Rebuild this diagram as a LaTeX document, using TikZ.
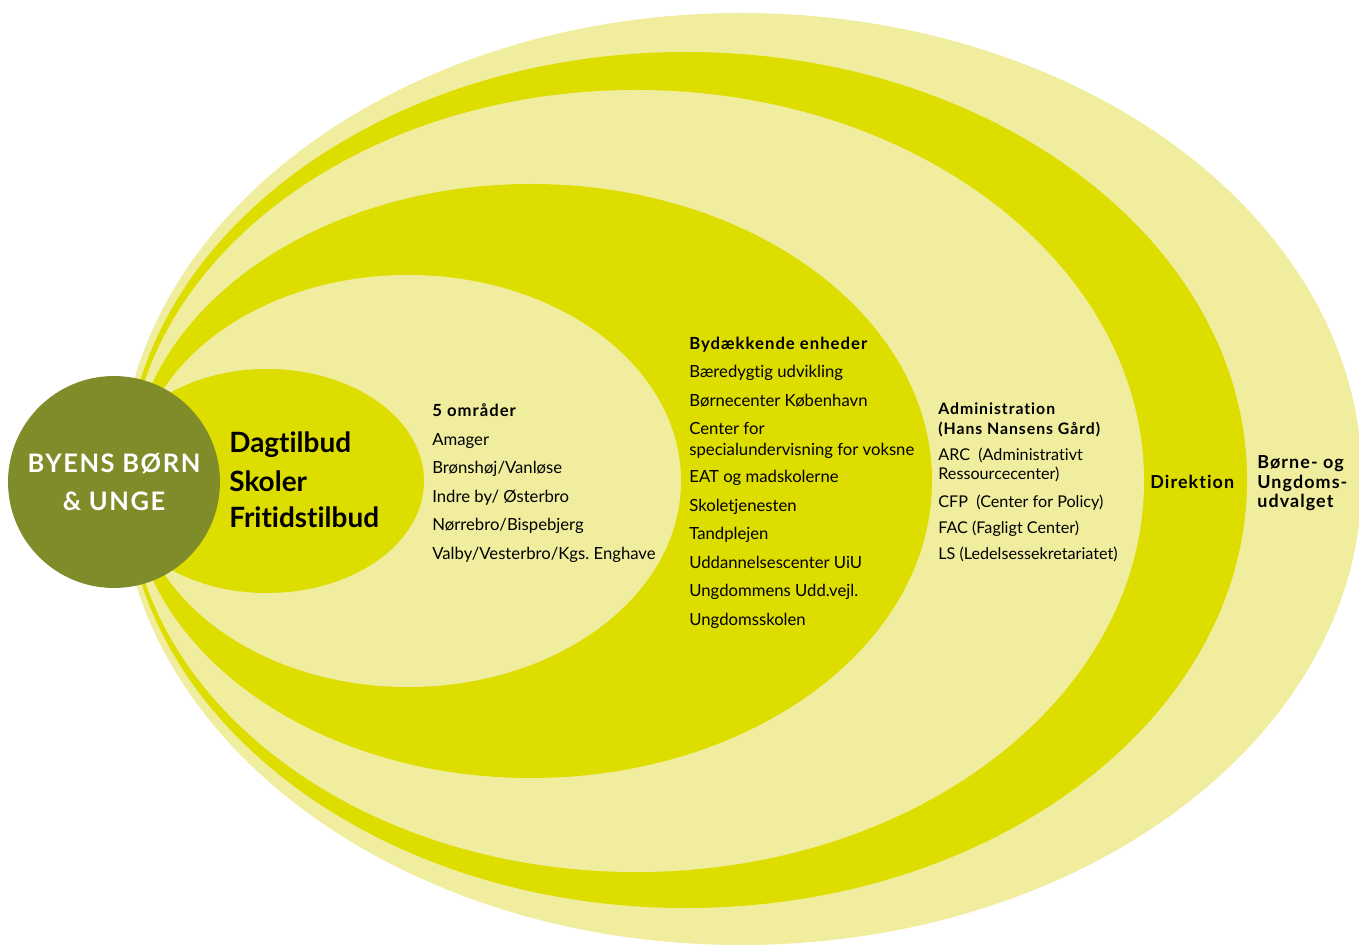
\documentclass[tikz,border=0pt]{standalone}
\usepackage{fontspec}
\setmainfont{Lato}[Ligatures=NoCommon]
\newfontfamily\spacedbold{Lato}[LetterSpace=6, Ligatures=NoCommon]
\usepackage{tikz}
\definecolor{paleyellow}{RGB}{240,237,158}
\definecolor{strongyellow}{RGB}{222,221,0}
\definecolor{olivegreen}{RGB}{128,140,42}
\tikzset{
item/.style={anchor=base west, inner sep=0pt, font=\fontsize{9.5}{11}\selectfont},
head/.style={item, font=\fontsize{9.5}{11}\selectfont\spacedbold\bfseries},
small/.style={item, font=\fontsize{9.2}{10}\selectfont},
smallhead/.style={item, font=\fontsize{9}{10}\selectfont\spacedbold\bfseries},
outer/.style={item, font=\fontsize{10.2}{11}\selectfont\spacedbold\bfseries}}

\begin{document}
\begin{tikzpicture}[x=0.02cm, y=-0.02cm]
    \useasboundingbox (0,0) rectangle (1359,945);

                % rings, outside in
                \fill[paleyellow] (741,479) ellipse [x radius=621, y radius=466];
                \fill[strongyellow] (686,480) ellipse [x radius=561, y radius=428];
                \fill[paleyellow] (636,481) ellipse [x radius=508, y radius=391];
                \fill[strongyellow] (531,481) ellipse [x radius=401, y radius=297];
                \fill[paleyellow] (408,481) ellipse [x radius=273, y radius=206];
                \fill[strongyellow] (267,481) ellipse [x radius=157, y radius=112];

                \node[shape=circle, fill=olivegreen, minimum size=4.24cm, inner sep=0pt, text=white, align=center,
                      font=\fontsize{14.5}{21.5}\selectfont\spacedbold\bfseries] (byens) at (114,482) {BYENS BØRN\\\& UNGE};

                \node[item, font=\fontsize{15.9}{21}\selectfont\bfseries] (dag) at (229,453) {Dagtilbud};
                \node[item, font=\fontsize{15.9}{21}\selectfont\bfseries] (sko) at (229,492) {Skoler};
                \node[item, font=\fontsize{15.9}{21}\selectfont\bfseries] (fri) at (229,528) {Fritidstilbud};

                \node[head] (omr) at (432,417) {5 områder};
                \foreach \y/\txt [count=\i] in {446/Amager, 474/{Brønshøj/Vanløse}, 503/{Indre by/ Østerbro},
                    531/{Nørrebro/Bispebjerg}, 560/{Valby/Vesterbro/Kgs.\ Enghave}}
                    \node[item] (omr\i) at (432,\y) {\txt};

                \node[head] (byd) at (689,350) {Bydækkende enheder};
                \foreach \y/\txt [count=\i] in {378/Bæredygtig udvikling, 407/Børnecenter København, 435/Center for,
                    456/specialundervisning for voksne, 483/EAT og madskolerne, 512/Skoletjenesten, 540/Tandplejen,
                    568/Uddannelsescenter UiU, 597/Ungdommens Udd.vejl., 625/Ungdomsskolen}
                    \node[item] (byd\i) at (689,\y) {\txt};

                \node[smallhead] (adm) at (938,415) {Administration};
                \node[smallhead] (hng) at (938,434.5) {(Hans Nansens Gård)};
                \foreach \y/\txt [count=\i] in {461/ARC\ \ (Administrativt, 480/Ressourcecenter),
                    508/CFP\ \ (Center for Policy), 534/FAC (Fagligt Center), 560/LS (Ledelsessekretariatet)}
                    \node[small] (adm\i) at (938,\y) {\txt};

                \node[outer] (dir) at (1150,489) {Direktion};

                \node[outer] (bu1) at (1257,469) {Børne- og};
                \node[outer] (bu2) at (1257,489) {Ungdoms-};
                \node[outer] (bu3) at (1257,508) {udvalget};

            \end{tikzpicture}
\end{document}
